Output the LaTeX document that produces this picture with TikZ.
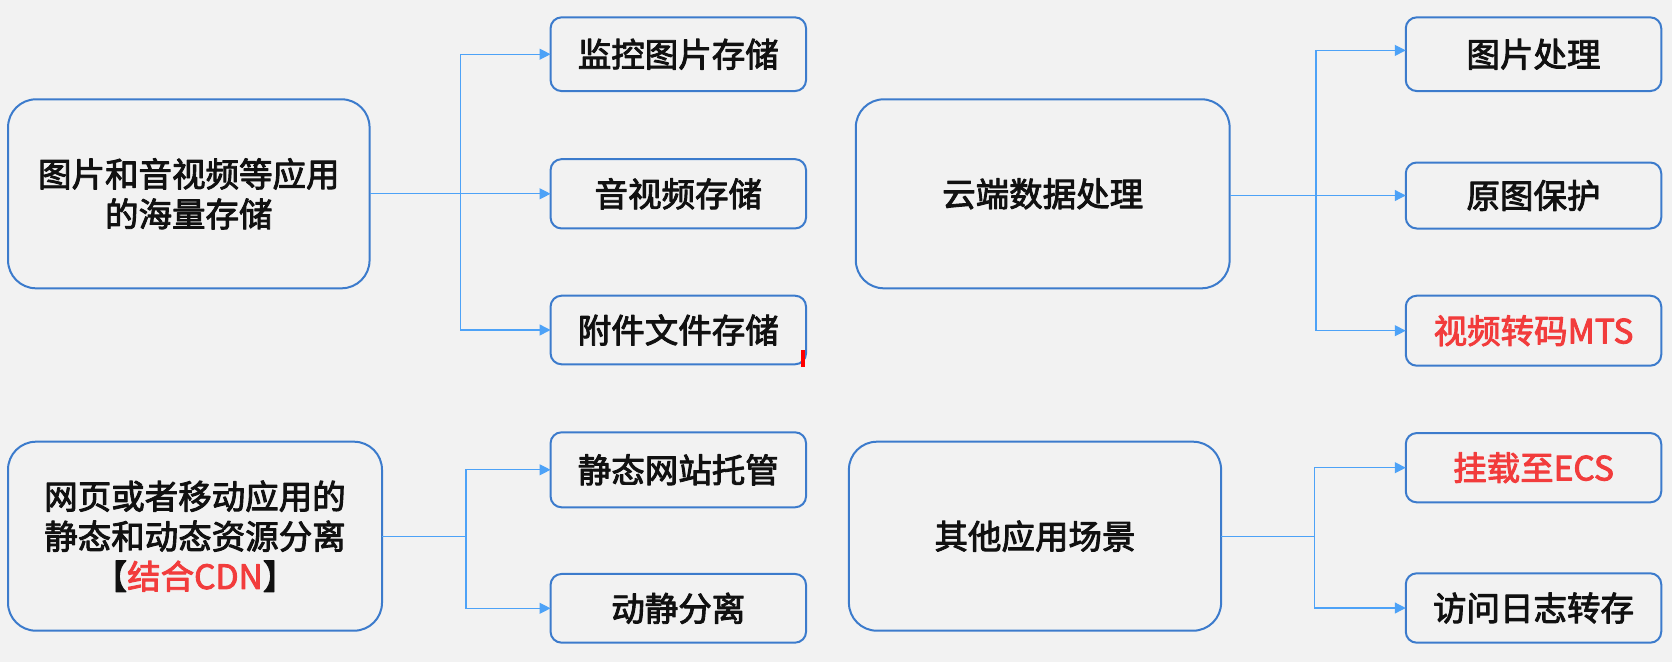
\documentclass[tikz,border=0pt]{standalone}
\usepackage{fontspec}
\newfontfamily\cjk{Noto Sans CJK SC}
\newcommand\embon{\special{pdf:literal direct 1 j 0.9 w 2 Tr}}
\newcommand\emboff{\special{pdf:literal direct 0 Tr}}
\usetikzlibrary{arrows.meta}
\definecolor{bg}{HTML}{F2F2F2}
\definecolor{boxblue}{HTML}{3C7BCC}
\definecolor{arrblue}{HTML}{4DA2F7}
\definecolor{hl}{HTML}{F23C3C}
\definecolor{txt}{HTML}{111111}
\begin{document}
\begin{tikzpicture}[x=1pt,y=-1pt,
  every node/.style={font=\cjk\fontsize{33.5}{40}\selectfont, text=txt, align=center, inner sep=0pt, outer sep=0pt},
  bigbox/.style={draw=boxblue, line width=2pt, rounded corners=28pt, minimum width=#1, minimum height=189pt},
  smallbox/.style={draw=boxblue, line width=2pt, rounded corners=11pt, minimum width=255.5pt},
  conn/.style={draw=arrblue, line width=1.2pt},
  arr/.style={conn, -{Triangle[length=11pt,width=11pt]}}
]
\fill[bg] (0,0) rectangle (1672,662);
\useasboundingbox (0,0) rectangle (1672,662);

% group 1
\node[bigbox=361.5pt] (A) at (188.8,193.8) {\embon{}图片和音视频等应用\\\embon{}的海量存储\emboff{}};
\node[smallbox, minimum height=73.7pt] (a1) at (678.3,54.2) {\embon{}监控图片存储\emboff{}};
\node[smallbox, minimum height=69.3pt] (a2) at (678.3,193.8) {\embon{}音视频存储\emboff{}};
\node[smallbox, minimum height=68.6pt] (a3) at (678.3,330) {\embon{}附件文件存储\emboff{}};
\coordinate (ta) at (460.6,193.8);
\draw[conn] (A.east) -- (ta);
\draw[arr] (ta) |- (a1.west);
\draw[arr] (ta) -- (a2.west);
\draw[arr] (ta) |- (a3.west);
\fill[red] (801,350) rectangle (805,367);

% group 2
\node[bigbox=373.8pt] (B) at (1042.7,193.8) {\embon{}云端数据处理\emboff{}};
\node[smallbox, minimum height=73.7pt] (b1) at (1533.5,54.2) {\embon{}图片处理\emboff{}};
\node[smallbox, minimum height=66pt] (b2) at (1533.5,195.5) {\embon{}原图保护\emboff{}};
\node[smallbox, minimum height=70pt] (b3) at (1533.5,330.7) {\textcolor{hl}{\embon{}视频转码MTS\emboff{}}};
\coordinate (tb) at (1316,195.5);
\draw[conn] ([yshift=-1.7pt]B.east) -- (tb);
\draw[arr] (tb) |- ([yshift=3.8pt]b1.west);
\draw[arr] (tb) -- (b2.west);
\draw[arr] (tb) |- (b3.west);

% group 3
\node[bigbox=374pt] (C) at (195,536.2) {\embon{}网页或者移动应用的\\\embon{}静态和动态资源分离\\\embon{}【\textcolor{hl}{\embon{}结合CDN}\embon{}】\emboff{}};
\node[smallbox, minimum height=75pt] (c1) at (678.3,469.8) {\embon{}静态网站托管\emboff{}};
\node[smallbox, minimum height=68.7pt] (c2) at (678.3,608.3) {\embon{}动静分离\emboff{}};
\coordinate (tc) at (465.9,536.2);
\draw[conn] (C.east) -- (tc);
\draw[arr] (tc) |- (c1.west);
\draw[arr] (tc) |- (c2.west);

% group 4
\node[bigbox=372.2pt] (D) at (1035,536.2) {\embon{}其他应用场景\emboff{}};
\node[smallbox, minimum height=69.3pt] (d1) at (1533.5,467.7) {\textcolor{hl}{\embon{}挂载至ECS\emboff{}}};
\node[smallbox, minimum height=69.4pt] (d2) at (1533.5,608) {\embon{}访问日志转存\emboff{}};
\coordinate (td) at (1314.4,536.2);
\draw[conn] (D.east) -- (td);
\draw[arr] (td) |- (d1.west);
\draw[arr] (td) |- (d2.west);
\end{tikzpicture}
\end{document}
